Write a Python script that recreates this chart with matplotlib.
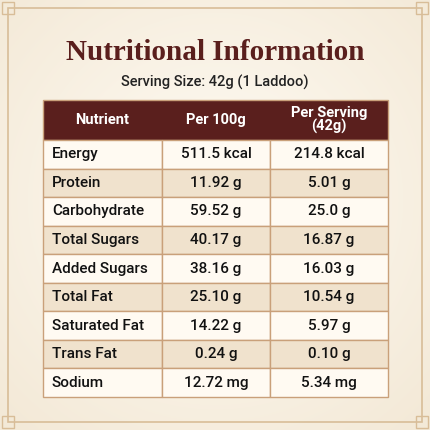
import numpy as np
import matplotlib.pyplot as plt
from matplotlib.patches import Rectangle

nutrients = ['Energy', 'Protein', 'Carbohydrate', 'Total Sugars', 'Added Sugars',
             'Total Fat', 'Saturated Fat', 'Trans Fat', 'Sodium']
per_100g = ['511.5 kcal', '11.92 g', '59.52 g', '40.17 g', '38.16 g',
            '25.10 g', '14.22 g', '0.24 g', '12.72 mg']
per_serving = ['214.8 kcal', '5.01 g', '25.0 g', '16.87 g', '16.03 g',
               '10.54 g', '5.97 g', '0.10 g', '5.34 mg']
headers = ['Nutrient', 'Per 100g', 'Per Serving\n(42g)']

maroon = '#5a1f1d'
line = '#c9a07a'

fig = plt.figure(figsize=(4.3, 4.3), dpi=100)
ax = fig.add_axes([0, 0, 1, 1])
ax.set_xlim(0, 430)
ax.set_ylim(430, 0)
ax.axis('off')

# background gradient
yy, xx = np.mgrid[0:430, 0:430]
r = np.hypot(xx - 215, yy - 200) / 300
bg = np.clip(r, 0, 1)[..., None]
c0 = np.array([1.0, 0.985, 0.955])
c1 = np.array([0.955, 0.915, 0.845])
ax.imshow(c0 * (1 - bg) + c1 * bg, extent=(0, 430, 430, 0), zorder=0)

# frame
ax.add_patch(Rectangle((8, 8), 414, 414, fill=False, ec='#d8bd98', lw=1.2, zorder=1))
for cx, cy in [(8, 8), (422, 8), (8, 422), (422, 422)]:
    ax.add_patch(Rectangle((cx - 6, cy - 6), 12, 12, fill=False, ec='#d8bd98', lw=1.0, zorder=1))

ax.text(215, 52, 'Nutritional Information', ha='center', va='center',
        fontsize=21, fontweight='bold', family='Liberation Serif', color=maroon)
ax.text(215, 82, 'Serving Size: 42g (1 Laddoo)', ha='center', va='center',
        fontsize=10.5, fontweight='medium', family='Roboto', color='#222222')

x0, x1, x2, x3 = 43, 162, 270, 388
top, hh = 100, 40
rh = (397 - 140) / len(nutrients)

ax.add_patch(Rectangle((x0, top), x3 - x0, hh, fc=maroon, ec=line, lw=1, zorder=2))
for xa, xb, h in zip([x0, x1, x2], [x1, x2, x3], headers):
    ax.text((xa + xb) / 2, top + hh / 2, h, ha='center', va='center', fontsize=10.5,
            fontweight='bold', family='Roboto', color='white', linespacing=0.95, zorder=3)

for i, (n, a, b) in enumerate(zip(nutrients, per_100g, per_serving)):
    y = top + hh + i * rh
    fc = '#fffaf2' if i % 2 == 0 else '#f0e2cd'
    for xa, xb in [(x0, x1), (x1, x2), (x2, x3)]:
        ax.add_patch(Rectangle((xa, y), xb - xa, rh, fc=fc, ec=line, lw=1, zorder=2))
    kw = dict(va='center', fontsize=11, fontweight='medium', family='Roboto',
              color='#111111', zorder=3)
    ax.text(x0 + 9, y + rh / 2, n, ha='left', **kw)
    ax.text((x1 + x2) / 2, y + rh / 2, a, ha='center', **kw)
    ax.text((x2 + x3) / 2, y + rh / 2, b, ha='center', **kw)

fig.savefig('out.png', dpi=100)
